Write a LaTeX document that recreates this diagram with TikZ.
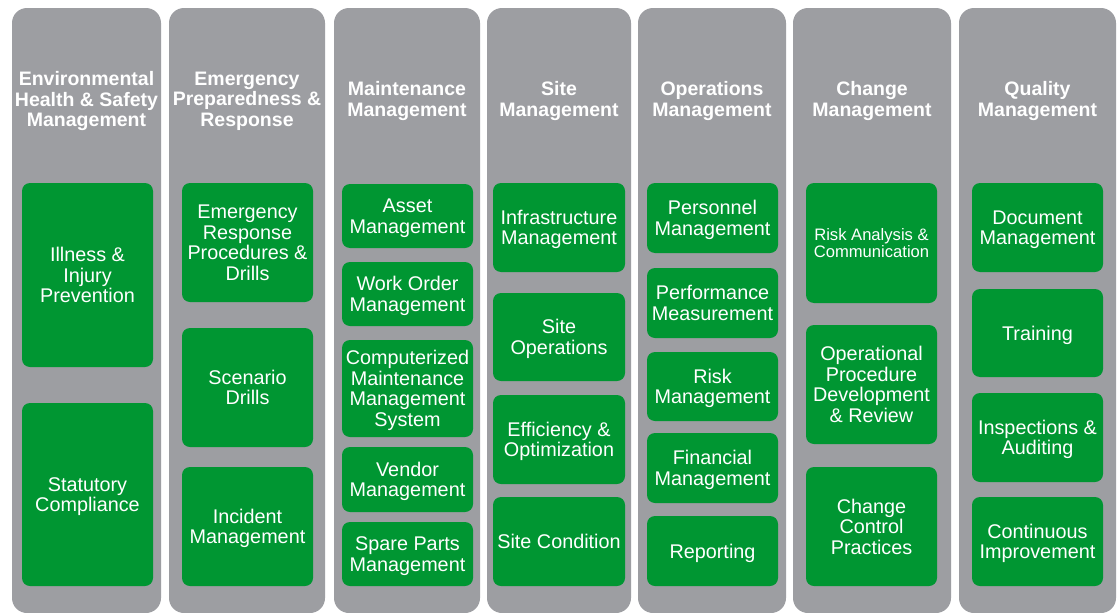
\documentclass[tikz,border=0pt]{standalone}
\usepackage{fontspec}
\setmainfont{Liberation Sans}
\definecolor{colgrey}{RGB}{157,158,162}
\definecolor{boxgreen}{RGB}{0,150,50}
\tikzset{
  colbox/.style={fill=colgrey, draw=none, rounded corners=15pt},
  hdr/.style={text=white, align=center, inner sep=0pt, text depth=0pt, font=\bfseries\fontsize{19.5}{20.4}\selectfont},
  gb/.style={fill=boxgreen, draw=none, rounded corners=8pt, text=white, align=center, inner sep=0pt, text depth=0pt, font=\fontsize{19.8}{20.6}\selectfont},
  gbs/.style={gb, font=\fontsize{16.6}{17.4}\selectfont}
}
\newcommand\colrect[3]{\path[colbox] (#2,8) rectangle (#3,613);
  \coordinate (#1) at ({(#2+#3)/2},99);}
\newcommand\gbox[7][gb]{\node[#1, minimum width={(#5-#3)*1pt}, minimum height={(#6-#4)*1pt}] (#2) at ({(#3+#5)/2},{(#4+#6)/2}) {#7};}
\begin{document}
\begin{tikzpicture}[x=1pt,y=-1pt]
\useasboundingbox (0,0) rectangle (1119,613);
\fill[white] (0,0) rectangle (1119,613);
\begin{scope}
\clip (0,0) rectangle (1119,613);
\colrect{c1}{12}{161}
\colrect{c2}{169}{325}
\colrect{c3}{334}{480}
\colrect{c4}{487}{631}
\colrect{c5}{638}{786}
\colrect{c6}{793}{951}
\colrect{c7}{959}{1116}
\end{scope}
% headers
\node[hdr] (h1) at (c1) {Environmental\\Health \& Safety\\Management};
\node[hdr] (h2) at (c2) {Emergency\\Preparedness \&\\Response};
\node[hdr] (h3) at (c3) {Maintenance\\Management};
\node[hdr] (h4) at (c4) {Site\\Management};
\node[hdr] (h5) at (c5) {Operations\\Management};
\node[hdr] (h6) at (c6) {Change\\Management};
\node[hdr] (h7) at (c7) {Quality\\Management};
% column 1
\gbox{a1}{22}{183}{153}{367}{Illness \&\\Injury\\Prevention}
\gbox{a2}{22}{403}{153}{586}{Statutory\\Compliance}
% column 2
\gbox{b1}{182}{183}{313}{302}{Emergency\\Response\\Procedures \&\\Drills}
\gbox{b2}{182}{328}{313}{447}{Scenario\\Drills}
\gbox{b3}{182}{467}{313}{586}{Incident\\Management}
% column 3
\gbox{m1}{342}{184}{473}{248}{Asset\\Management}
\gbox{m2}{342}{262}{473}{326}{Work Order\\Management}
\gbox{m3}{342}{340}{473}{437}{Computerized\\Maintenance\\Management\\System}
\gbox{m4}{342}{447}{473}{512}{Vendor\\Management}
\gbox{m5}{342}{522}{473}{586}{Spare Parts\\Management}
% column 4
\gbox{s1}{493}{183}{625}{272}{Infrastructure\\Management}
\gbox{s2}{493}{293}{625}{381}{Site\\Operations}
\gbox{s3}{493}{395}{625}{484}{Efficiency \&\\Optimization}
\gbox{s4}{493}{497}{625}{586}{Site Condition}
% column 5
\gbox{o1}{647}{183}{778}{253}{Personnel\\Management}
\gbox{o2}{647}{268}{778}{338}{Performance\\Measurement}
\gbox{o3}{647}{352}{778}{421}{Risk\\Management}
\gbox{o4}{647}{433}{778}{503}{Financial\\Management}
\gbox{o5}{647}{516}{778}{586}{Reporting}
% column 6
\gbox[gbs]{k1}{806}{183}{937}{303}{Risk Analysis \&\\Communication}
\gbox{k2}{806}{325}{937}{444}{Operational\\Procedure\\Development\\\& Review}
\gbox{k3}{806}{467}{937}{586}{Change\\Control\\Practices}
% column 7
\gbox{q1}{972}{183}{1103}{272}{Document\\Management}
\gbox{q2}{972}{289}{1103}{377}{Training}
\gbox{q3}{972}{393}{1103}{482}{Inspections \&\\Auditing}
\gbox{q4}{972}{497}{1103}{586}{Continuous\\Improvement}
\end{tikzpicture}
\end{document}
